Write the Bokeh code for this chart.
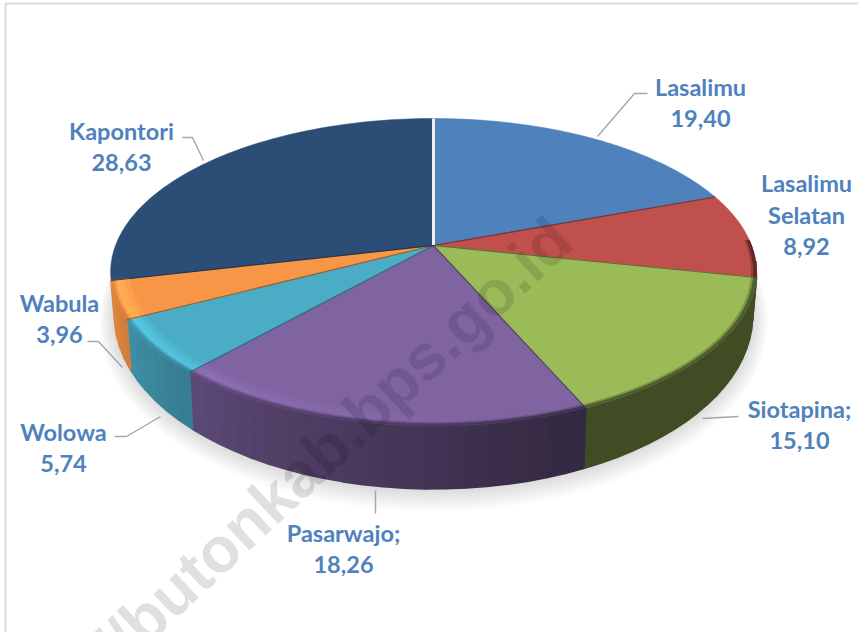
import numpy as np
from bokeh.plotting import figure
from bokeh.models import Range1d
from bokeh.core.properties import value
from bokeh.embed import file_html
from bokeh.resources import INLINE

names = ["Lasalimu", "Lasalimu Selatan", "Siotapina", "Pasarwajo", "Wolowa", "Wabula", "Kapontori"]
values = [19.40, 8.92, 15.10, 18.26, 5.74, 3.96, 28.63]
value_labels = ["19,40", "8,92", "15,10", "18,26", "5,74", "3,96", "28,63"]
label_lines = [["Lasalimu", "19,40"], ["Lasalimu", "Selatan", "8,92"], ["Siotapina;", "15,10"],
               ["Pasarwajo;", "18,26"], ["Wolowa", "5,74"], ["Wabula", "3,96"], ["Kapontori", "28,63"]]
colors = ["#4f81bd", "#c0504d", "#9bbb59", "#8064a2", "#4bacc6", "#f79646", "#2c4d75"]
watermark = "//butonkab.bps.go.id"

# layout of the projected disc
CX, CY, C, A, B = 433.0, 245.0, 318.0, 149.0, 0.173
BC, BA, BDY = 314.0, 168.0, 40.0
label_pos = [(700, 86), (806, 182), (799, 408), (343, 532), (63, 431), (59, 302), (121, 130)]
LINE_H = 32
leaders = [([647, 634, 597], [93, 93, 136]), ([182, 192, 203], [137, 137, 160]), ([87, 98, 122], [341, 341, 367]),
           ([114, 126, 160], [436, 436, 416]), ([738, 702], [416, 418]), ([375, 375], [490, 513])]


def top(t, r=1.0):
    t = np.radians(t)
    u, v = r * np.sin(t), r * np.cos(t)
    d = 1 + B * v
    return CX + C * u / d, CY - A * v / d


def bottom(t, grow=0.0):
    t = np.radians(t)
    u, v = np.sin(t), np.cos(t)
    d = 1 + B * v
    return CX + (BC + grow) * u / d, CY + BDY + grow * 0.25 - (BA + grow) * v / d


def rgb(h):
    return np.array([int(h[i:i + 2], 16) for i in (1, 3, 5)], float)


def hexc(c):
    c = np.clip(np.round(c), 0, 255).astype(int)
    return "#%02x%02x%02x" % tuple(c)


def wall_factor(t):
    return float(np.interp(t, [160, 262], [0.41, 0.93]))


def highlight(t):
    return float(np.interp(t, [175, 245], [1.0, 1.17]))


edges = np.concatenate([[0], np.cumsum(values)]) / sum(values) * 360

p = figure(width=858, height=632, x_range=Range1d(0, 858), y_range=Range1d(632, 0),
           x_axis_type=None, y_axis_type=None, toolbar_location=None, output_backend="svg",
           min_border=0, outline_line_color=None, background_fill_color="white")
p.grid.visible = False

# frame
p.line([5, 5], [632, 3], line_color="#d9d9d9", line_width=2)
p.line([5, 858], [3, 3], line_color="#d9d9d9", line_width=2)

# shadow
tt = np.linspace(0, 360, 200)
for g in range(1, 13):
    x, y = bottom(tt, g * 1.3)
    p.patch(x, y, fill_color="black", fill_alpha=0.012, line_color=None)

# walls
xs, ys, cs = [], [], []
for i, col in enumerate(colors[:-1]):
    lo, hi = max(edges[i], 96), edges[i + 1]
    if hi <= lo:
        continue
    grid = np.linspace(lo, hi, max(2, int((hi - lo) / 3) + 1))
    base = rgb(col)
    for a0, a1 in zip(grid[:-1], grid[1:]):
        x0, y0 = top(a0)
        x1, y1 = top(a1)
        x2, y2 = bottom(a1)
        x3, y3 = bottom(a0)
        xs.append([x0, x1, x2, x3])
        ys.append([y0, y1, y2, y3])
        cs.append(hexc(base * wall_factor((a0 + a1) / 2)))
# strips overlap their neighbour, in drawing order, so that no seams show
p.patches(xs, ys, fill_color=cs, line_color=cs, line_width=2.2)

# faces
for i, col in enumerate(colors):
    g = np.linspace(edges[i], edges[i + 1], 80)
    x, y = top(g)
    p.patch(np.r_[CX, x], np.r_[CY, y], fill_color=col, line_color=col, line_width=0.5)

# bevel bands
levels = [(0.945, 0.96), (0.96, 0.975), (0.975, 0.985), (0.985, 0.992), (0.992, 1.0)]
mix = [(0.35, 0.0), (0.8, 0.0), (1.0, 0.0), (0.7, 0.35), (0.2, 0.85)]
xs, ys, cs = [], [], []
for i, col in enumerate(colors[:-1]):
    lo, hi = max(edges[i], 88), edges[i + 1]
    if hi <= lo:
        continue
    grid = np.linspace(lo, hi, max(2, int((hi - lo) / 2) + 1))
    base = rgb(col)
    for a0, a1 in zip(grid[:-1], grid[1:]):
        m = (a0 + a1) / 2
        hl, wf = highlight(m), wall_factor(m)
        for (r0, r1), (mh, mw) in zip(levels, mix):
            x0, y0 = top(a0, r0)
            x1, y1 = top(a1, r0)
            x2, y2 = top(a1, r1)
            x3, y3 = top(a0, r1)
            f = (1 - mw) * (1 + (hl - 1) * mh) + mw * wf
            xs.append([x0, x1, x2, x3])
            ys.append([y0, y1, y2, y3])
            cs.append(hexc(base * f))
p.patches(xs, ys, fill_color=cs, line_color=cs, line_width=0.8)

# separators
for i, col in enumerate(colors):
    x, y = top(edges[i] if i else 0.0)
    if i == 0:
        p.line([CX, CX], [CY, y], line_color="#eeeeee", line_width=3)
    else:
        p.line([CX, x], [CY, y], line_color=hexc(rgb(col) * 0.5), line_width=1.1, line_alpha=0.8)

# watermark
p.text([561], [229], text=[watermark], angle=[43], angle_units="deg", text_align="right",
       text_baseline="middle", text_font=value("Liberation Sans"), text_font_style="bold",
       text_font_size="64px", text_color="black", text_alpha=0.12)

# leaders
for lx, ly in leaders:
    p.line(lx, ly, line_color="#a6a6a6", line_width=1.4)

# labels
tx, ty, tl = [], [], []
for lines, (lx, ly) in zip(label_lines, label_pos):
    for k, s in enumerate(lines):
        tx.append(lx)
        ty.append(ly + k * LINE_H)
        tl.append(s)
p.text(tx, ty, text=tl, text_align="center", text_baseline="middle", text_font=value("Lato"),
       text_font_style="bold", text_font_size="23.5px", text_color="#4f81bd")

open("out.html", "w").write(file_html(p, INLINE))
